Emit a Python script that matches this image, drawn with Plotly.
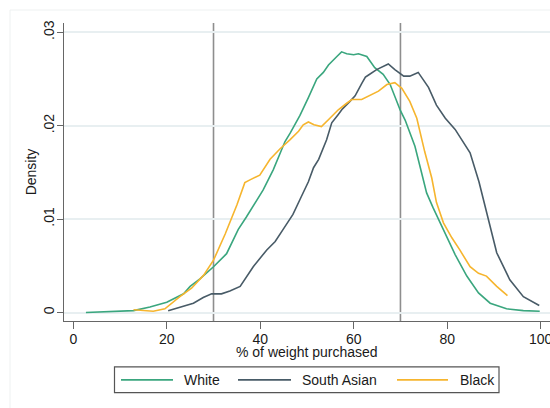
import plotly.graph_objects as go

# Kernel density of the share of weight purchased, by ethnic group
white_x = [2.7, 5.0, 7.8, 10.0, 12.9, 16.4, 20.0, 23.6, 25.0, 27.1, 30.0, 32.8, 35.3, 37.0,
           38.5, 40.6, 42.8, 44.2, 45.3, 46.4, 48.5, 50.3, 52.1, 53.5, 54.6, 56.4, 57.4,
           58.5, 60.0, 61.0, 62.8, 64.5, 66.3, 67.8, 70.0, 71.0, 72.0, 73.1, 74.2, 75.6,
           77.0, 79.2, 81.7, 84.2, 86.7, 89.2, 92.7, 96.3, 99.8]
white_y = [0.0, 0.00003, 0.0001, 0.00015, 0.0002, 0.0006, 0.0011, 0.0020, 0.0028, 0.0036,
           0.0049, 0.0063, 0.0089, 0.0102, 0.0114, 0.0131, 0.0153, 0.0169, 0.0183, 0.0192,
           0.0211, 0.0230, 0.0250, 0.0257, 0.0265, 0.0274, 0.0279, 0.0277, 0.0276, 0.0277,
           0.0274, 0.0262, 0.0255, 0.0244, 0.0216, 0.0206, 0.0192, 0.0178, 0.0156, 0.0128,
           0.0112, 0.0088, 0.0062, 0.0039, 0.0021, 0.0010, 0.0004, 0.0002, 0.00014]

south_asian_x = [20.3, 22.8, 25.7, 27.8, 29.6, 31.7, 33.5, 35.7, 38.5, 41.4, 43.2, 44.9,
                 47.0, 48.5, 50.3, 51.4, 52.5, 54.2, 55.3, 56.7, 57.6, 59.2, 60.3, 61.7,
                 62.5, 63.1, 64.9, 67.4, 68.8, 70.7, 72.0, 73.8, 76.0, 77.7, 79.6, 81.7,
                 82.7, 84.9, 86.8, 88.8, 90.6, 93.4, 96.3, 99.7]
south_asian_y = [0.0002, 0.0006, 0.0010, 0.0016, 0.0020, 0.0020, 0.0023, 0.0028, 0.0049,
                 0.0067, 0.0076, 0.0089, 0.0105, 0.0121, 0.0140, 0.0155, 0.0164, 0.0185,
                 0.0203, 0.0212, 0.0218, 0.0226, 0.0232, 0.0245, 0.0252, 0.0254, 0.0260,
                 0.0266, 0.0260, 0.0253, 0.0253, 0.0257, 0.0241, 0.0222, 0.0208, 0.0196,
                 0.0188, 0.0171, 0.0140, 0.0099, 0.0064, 0.0035, 0.0017, 0.00075]

black_x = [12.9, 15.0, 17.1, 19.6, 21.0, 22.8, 25.3, 27.9, 30.0, 32.5, 35.0, 36.7, 37.8,
           39.9, 42.1, 44.2, 46.4, 48.2, 49.2, 50.3, 51.5, 53.1, 54.9, 56.7, 58.5, 59.6,
           61.7, 63.2, 65.3, 67.1, 68.8, 70.3, 72.0, 73.5, 75.2, 76.7, 77.7, 79.2, 81.0,
           82.7, 84.9, 86.7, 88.4, 90.6, 92.9]
black_y = [0.0003, 0.0002, 0.00014, 0.0004, 0.0010, 0.0017, 0.0026, 0.0040, 0.0056, 0.0084,
           0.0115, 0.0139, 0.0142, 0.0147, 0.0164, 0.0175, 0.0185, 0.0194, 0.0201, 0.0204,
           0.0201, 0.0199, 0.0208, 0.0217, 0.0224, 0.0228, 0.0228, 0.0232, 0.0237, 0.0244,
           0.0246, 0.0240, 0.0226, 0.0208, 0.0172, 0.0144, 0.0118, 0.0096, 0.0080, 0.0067,
           0.0049, 0.0042, 0.0039, 0.0028, 0.0018]

ref_lines = [30, 70]
x_ticks = [0, 20, 40, 60, 80, 100]
y_ticks = [0, 0.01, 0.02, 0.03]
y_tick_text = ["0", ".01", ".02", ".03"]
x_title = "% of weight purchased"
y_title = "Density"

series = [
    ("White", white_x, white_y, "#3aa67e"),
    ("South Asian", south_asian_x, south_asian_y, "#485b67"),
    ("Black", black_x, black_y, "#f6b52e"),
]

FONT = "Liberation Sans, Arial, sans-serif"
W, H = 550, 408
ML, MR, MT, MB = 64, 0, 23, 86.5
PW, PH = W - ML - MR, H - MT - MB


def px_x(p):
    """Pixel column -> paper x."""
    return (p - ML) / PW


def px_y(p):
    """Pixel row -> paper y."""
    return (H - MB - p) / PH


fig = go.Figure()
for name, xs, ys, color in series:
    fig.add_trace(go.Scatter(x=xs, y=ys, mode="lines", name=name, showlegend=False,
                             line=dict(color=color, width=1.6)))

for xv in ref_lines:
    fig.add_shape(type="line", xref="x", yref="paper", x0=xv, x1=xv, y0=0, y1=1,
                  line=dict(color="#8e8e8e", width=1.6), layer="below")

# faint outer frame of the graph region
fig.add_shape(type="rect", xref="paper", yref="paper", x0=px_x(10), x1=px_x(700),
              y0=px_y(600), y1=px_y(10), line=dict(color="#eef1f1", width=1), layer="below")

# x-axis title, centred under the plot region
fig.add_annotation(xref="paper", yref="paper", x=0.5, y=px_y(352.5), text=x_title,
                   showarrow=False, xanchor="center", yanchor="middle",
                   font=dict(family=FONT, size=14, color="#1a1a1a"))

# legend box below the plot
fig.add_shape(type="rect", xref="paper", yref="paper", x0=px_x(114.5), x1=px_x(499),
              y0=px_y(393.3), y1=px_y(367.5), line=dict(color="#555555", width=1.2),
              fillcolor="white")
legend_cy = px_y(380.5)
legend_pos = [(121, 173, 181.5), (238, 291, 300), (397, 448, 457.5)]
for (name, _, _, color), (l0, l1, tx) in zip(series, legend_pos):
    fig.add_shape(type="line", xref="paper", yref="paper", x0=px_x(l0), x1=px_x(l1),
                  y0=legend_cy, y1=legend_cy, line=dict(color=color, width=1.6))
    fig.add_annotation(xref="paper", yref="paper", x=px_x(tx), y=legend_cy, text=name,
                       showarrow=False, xanchor="left", yanchor="middle",
                       font=dict(family=FONT, size=14, color="#1a1a1a"))

fig.update_layout(
    width=W, height=H,
    margin=dict(l=ML, r=MR, t=MT, b=MB),
    paper_bgcolor="white", plot_bgcolor="white",
    font=dict(family=FONT, size=14, color="#1a1a1a"),
    showlegend=False,
    xaxis=dict(range=[-1.99, 102.0], tickvals=x_ticks, ticks="outside", ticklen=7,
               tickcolor="#666666", tickwidth=1.2, showgrid=False, zeroline=False,
               showline=True, linecolor="#666666", linewidth=1.3, automargin=False,
               ticklabeloverflow="allow", ticklabelstandoff=-2,
               tickfont=dict(size=14)),
    yaxis=dict(range=[-0.000908, 0.03099], tickvals=y_ticks, ticktext=y_tick_text,
               tickangle=-90, ticks="outside", ticklen=6, tickcolor="#666666", tickwidth=1.2,
               showgrid=True, gridcolor="#e8eff1", gridwidth=1.5, zeroline=False,
               showline=True, linecolor="#666666", linewidth=1.3, automargin=False,
               ticklabelstandoff=-3,
               title=dict(text=y_title, standoff=1, font=dict(size=14)),
               tickfont=dict(size=14)),
)

fig.write_html("out.html")
